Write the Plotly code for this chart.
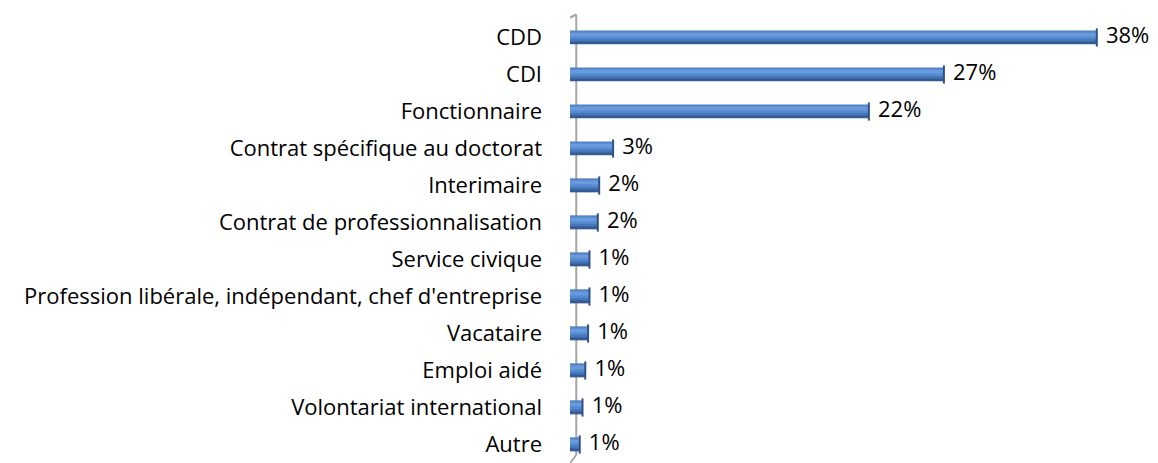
import plotly.graph_objects as go

categories = [
    "CDD", "CDI", "Fonctionnaire", "Contrat spécifique au doctorat", "Interimaire",
    "Contrat de professionnalisation", "Service civique",
    "Profession libérale, indépendant, chef d'entreprise", "Vacataire",
    "Emploi aidé", "Volontariat international", "Autre",
]
values = [37.9, 26.9, 21.5, 3.1, 2.1, 2.0, 1.4, 1.4, 1.3, 1.1, 0.9, 0.7]
labels = ["38%", "27%", "22%", "3%", "2%", "2%", "1%", "1%", "1%", "1%", "1%", "1%"]

FONT = "Open Sans"
FS = 22
fig = go.Figure()

# cylinder look: overlaid layers (dark bottom edge, body, highlight)
layers = [
    (0.37, -0.185, "#345B93"),
    (0.29, -0.185, "#4677BA"),
    (0.21, -0.17, "#5389CF"),
    (0.10, -0.13, "#6A9ADC"),
]
for w, off, col in layers:
    fig.add_trace(go.Bar(
        x=values, y=categories, orientation="h",
        width=[w] * len(values), offset=[off] * len(values),
        marker=dict(color=col, line=dict(width=0)),
        hoverinfo="skip", showlegend=False,
    ))

# end caps + value labels
fig.add_trace(go.Scatter(
    x=values, y=categories, mode="markers+text",
    marker=dict(symbol="line-ns", size=13, color="#2E5288",
                line=dict(color="#2E5288", width=2)),
    text=labels, textposition="middle right",
    textfont=dict(family=FONT, size=FS, color="#000000"),
    hoverinfo="skip", showlegend=False, cliponaxis=False,
))

fig.update_layout(
    width=1158, height=463,
    margin=dict(l=570, r=32, t=19, b=0, autoexpand=False),
    paper_bgcolor="white", plot_bgcolor="white",
    barmode="overlay",
    font=dict(family=FONT, size=FS, color="#000000"),
    xaxis=dict(range=[0, 40], showgrid=False, zeroline=False, showticklabels=False,
               showline=False, ticks="", automargin=False),
    yaxis=dict(categoryorder="array", categoryarray=categories, range=[11.5, -0.5],
               showgrid=False, zeroline=False, showline=False, ticks="", automargin=False,
               ticklabelstandoff=27, tickfont=dict(family=FONT, size=FS, color="#000000")),
)

# perspective wall (decorative)
wall = "#A6A6A6"
xl, xr = -0.43, 0.45
fig.add_shape(type="line", xref="x", yref="paper", x0=xl, x1=xl, y0=-0.01, y1=0.9966,
              line=dict(color=wall, width=2), layer="below")
fig.add_shape(type="line", xref="x", yref="paper", x0=xr, x1=xr, y0=0.018, y1=1.0101,
              line=dict(color=wall, width=2), layer="below")
fig.add_shape(type="line", xref="x", yref="paper", x0=xl, x1=xr, y0=0.9966, y1=1.0101,
              line=dict(color=wall, width=2), layer="below")
fig.add_shape(type="line", xref="x", yref="paper", x0=xr, x1=-0.05, y0=0.018, y1=-0.002,
              line=dict(color=wall, width=2), layer="below")

fig.write_html("out.html", config={"displayModeBar": False},
               post_script="document.body.style.margin='0';document.body.style.overflow='hidden';")
